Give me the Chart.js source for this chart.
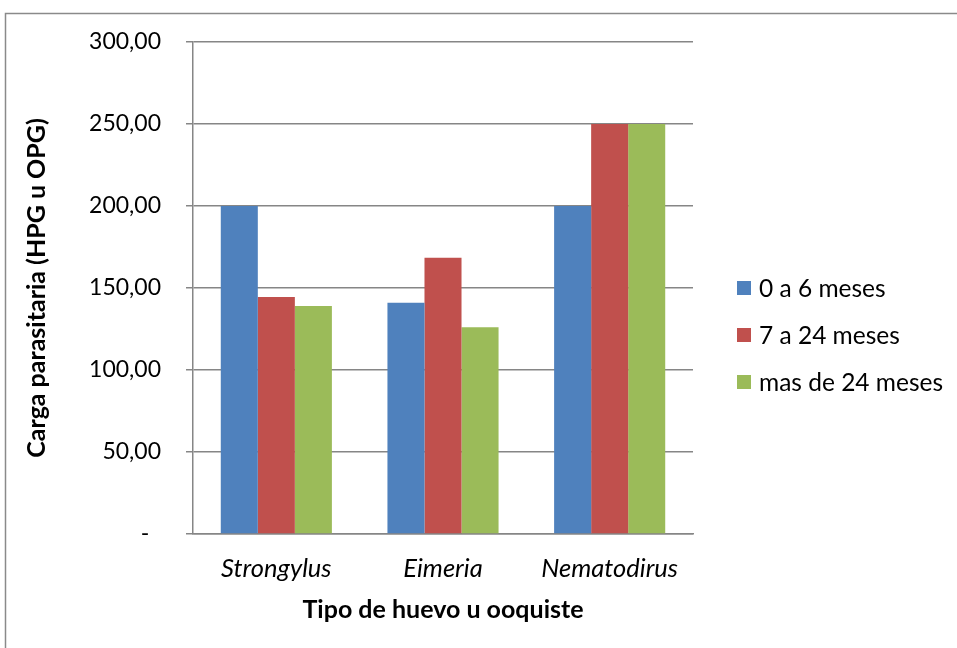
<!DOCTYPE html>
<html>
<head>
<meta charset="utf-8">
<script src="https://cdn.jsdelivr.net/npm/chart.js@4/dist/chart.umd.min.js"></script>
<style>
  html, body { margin: 0; padding: 0; background: #fff; }
  #wrap { width: 957px; height: 648px; position: relative; }
</style>
</head>
<body>
<div id="wrap"><canvas id="c" width="957" height="648"></canvas></div>
<script>
// Egg / oocyst types on the category axis
const categories = ['Strongylus', 'Eimeria', 'Nematodirus'];

// Age groups (legend labels)
const seriesNames = ['0 a 6 meses', '7 a 24 meses', 'mas de 24 meses'];

// Parasite load (HPG / OPG) per age group
const age0to6 = [200, 141, 200];
const age7to24 = [144.5, 168.5, 250];
const ageOver24 = [139, 126, 250];

// Value-axis tick labels, from 0 to 300 by 50
const yTickValues = [0, 50, 100, 150, 200, 250, 300];
const yTickLabels = ['-  ', '50,00', '100,00', '150,00', '200,00', '250,00', '300,00'];

const seriesColors = ['#4F81BD', '#C0504D', '#9BBB59'];
const FONT = 'Lato, "Open Sans", sans-serif';
const AXIS_GREY = '#868686';

// Outer frame of the chart area
const framePlugin = {
  id: 'frame',
  beforeDraw(chart) {
    const ctx = chart.ctx;
    ctx.save();
    ctx.fillStyle = '#fff';
    ctx.fillRect(0, 0, chart.width, chart.height);
    ctx.strokeStyle = '#8a8a8a';
    ctx.lineWidth = 1.5;
    ctx.beginPath();
    ctx.moveTo(5.5, chart.height);
    ctx.lineTo(5.5, 13.5);
    ctx.lineTo(chart.width, 13.5);
    ctx.stroke();
    ctx.restore();
  }
};

// Legend on the right, built from the datasets
const sideLegend = {
  id: 'sideLegend',
  afterDraw(chart) {
    const ctx = chart.ctx;
    ctx.save();
    ctx.font = '24.5px ' + FONT;
    ctx.textBaseline = 'middle';
    ctx.textAlign = 'left';
    chart.data.datasets.forEach((ds, i) => {
      const cy = 288 + i * 47;
      ctx.fillStyle = ds.backgroundColor;
      ctx.fillRect(737, cy - 7, 14, 14);
      ctx.fillStyle = '#000';
      ctx.fillText(ds.label, 759, cy + 1);
    });
    ctx.restore();
  }
};

const datasets = [age0to6, age7to24, ageOver24].map((vals, i) => ({
  label: seriesNames[i],
  data: vals,
  backgroundColor: seriesColors[i],
  borderWidth: 0,
  categoryPercentage: 3 / 4.5,
  barPercentage: 1.0
}));

new Chart(document.getElementById('c'), {
  type: 'bar',
  data: { labels: categories, datasets },
  plugins: [framePlugin, sideLegend],
  options: {
    responsive: false,
    animation: false,
    devicePixelRatio: 1,
    layout: { padding: { top: 42, right: 264, bottom: 0, left: 0 } },
    plugins: {
      legend: { display: false },
      tooltip: { enabled: false }
    },
    scales: {
      x: {
        afterFit(scale) { scale.height = 114; },
        grid: { display: false, drawTicks: false },
        border: { display: true, color: AXIS_GREY, width: 1.5 },
        ticks: {
          color: '#000',
          padding: 19,
          font: { family: FONT, size: 25.5, style: 'italic' }
        },
        title: {
          display: true,
          text: 'Tipo de huevo u ooquiste',
          color: '#000',
          font: { family: FONT, size: 25, weight: 'bold' },
          padding: { top: 0, bottom: 23 }
        }
      },
      y: {
        min: 0,
        max: 300,
        afterFit(scale) { scale.width = 193; },
        afterBuildTicks(scale) {
          scale.ticks = yTickValues.map(v => ({ value: v }));
        },
        grid: {
          color: AXIS_GREY,
          lineWidth: 1.5,
          drawTicks: true,
          tickLength: 7,
          tickColor: AXIS_GREY
        },
        border: { display: true, color: AXIS_GREY, width: 1.5 },
        ticks: {
          color: '#000',
          padding: 25,
          font: { family: FONT, size: 23 },
          callback(value) { return yTickLabels[yTickValues.indexOf(value)]; }
        },
        title: {
          display: true,
          text: 'Carga parasitaria (HPG u OPG)',
          color: '#000',
          font: { family: FONT, size: 25, weight: 'bold' },
          padding: { top: 22, bottom: 0 }
        }
      }
    }
  }
});
</script>
</body>
</html>
